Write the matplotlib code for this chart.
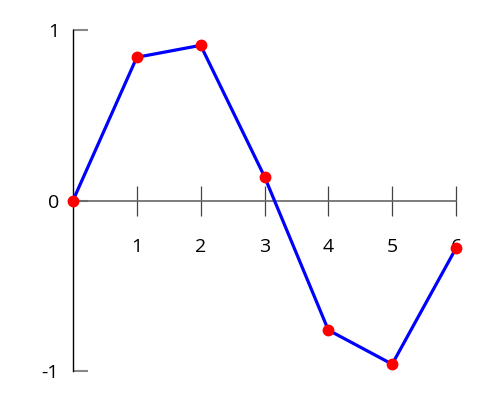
import matplotlib.pyplot as plt

plt.rcParams['font.family'] = ['Open Sans', 'DejaVu Sans']
plt.rcParams['axes.unicode_minus'] = False

# points
x = [0, 1, 2, 3, 4, 5, 6]
y = [0.0, 0.84, 0.91, 0.14, -0.76, -0.96, -0.28]
xticks = [1, 2, 3, 4, 5, 6]
yticks = [-1, 0, 1]

fig = plt.figure(figsize=(5, 4), dpi=100)
ax = fig.add_axes([0.146, 0.0725, 0.766, 0.8525])

ax.plot(x, y, color='blue', linewidth=2.3, zorder=3, clip_on=False)
ax.plot(x, y, 'o', color='red', markersize=7.5, zorder=4, clip_on=False)

ax.set_xlim(0, 6)
ax.set_ylim(-1, 1)

ax.spines['top'].set_visible(False)
ax.spines['right'].set_visible(False)
ax.spines['bottom'].set_position(('data', 0))
ax.spines['bottom'].set_color('#666666')
ax.spines['bottom'].set_linewidth(1.2)
ax.spines['left'].set_color('black')
ax.spines['left'].set_linewidth(1)

ax.set_xticks(xticks)
ax.set_yticks(yticks)
ax.tick_params(axis='x', direction='inout', length=22, width=0.9, color='#444444',
               pad=16, labelsize=14)
ax.tick_params(axis='y', direction='in', length=11, width=1.5, color='#888888',
               pad=10, labelsize=14)

fig.savefig('out.png', dpi=100)
